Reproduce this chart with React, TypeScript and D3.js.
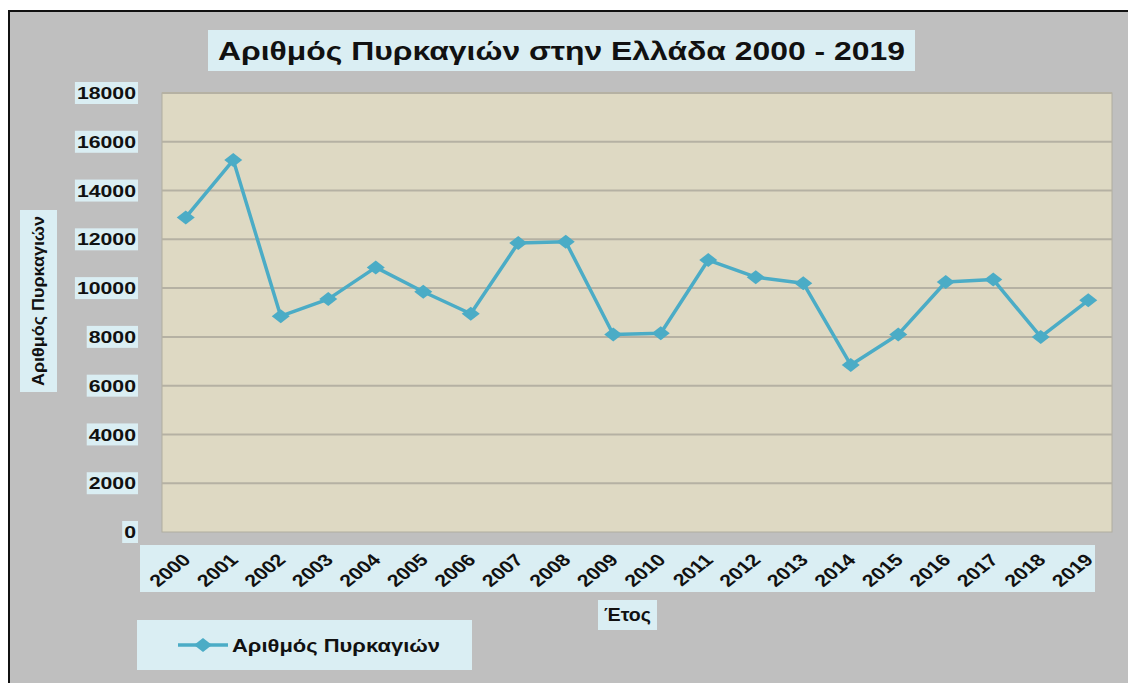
import React from "react";
import * as d3 from "d3";

// Αριθμός πυρκαγιών ανά έτος
const years = ["2000", "2001", "2002", "2003", "2004", "2005", "2006", "2007", "2008", "2009",
  "2010", "2011", "2012", "2013", "2014", "2015", "2016", "2017", "2018", "2019"];
const fires = [12900, 15250, 8850, 9550, 10850, 9850, 8950, 11850, 11900, 8100,
  8150, 11150, 10450, 10200, 6850, 8100, 10250, 10350, 8000, 9500];
const yTicks = [0, 2000, 4000, 6000, 8000, 10000, 12000, 14000, 16000, 18000];

const chartTitle = "Αριθμός Πυρκαγιών στην Ελλάδα 2000 - 2019";
const yTitle = "Αριθμός Πυρκαγιών";
const xTitle = "Έτος";
const seriesName = "Αριθμός Πυρκαγιών";

const App = () => {
  const ref = React.useRef<SVGSVGElement>(null);

  React.useEffect(() => {
    const width = 1128;
    const height = 683;
    const plot = { left: 162, right: 1112, top: 93, bottom: 532 };
    const sx = 1.25; // the picture is stretched sideways
    const font = "'Liberation Sans', Arial, sans-serif";
    const lineColor = "#4bacc6";
    const boxColor = "#daeef3";

    const svg = d3.select(ref.current);
    svg.selectAll("*").remove();

    // background + border
    svg.append("rect").attr("width", width).attr("height", height).attr("fill", "#fff");
    svg.append("rect").attr("x", 10).attr("y", 12).attr("width", width - 10).attr("height", height - 12)
      .attr("fill", "#bfbfbf");
    svg.append("path").attr("d", `M9,${height} V11 H${width}`)
      .attr("fill", "none").attr("stroke", "#111").attr("stroke-width", 2);

    const x = d3.scalePoint().domain(years).range([plot.left, plot.right]).padding(0.5);
    const y = d3.scaleLinear().domain([0, 18000]).range([plot.bottom, plot.top]);

    // plot area
    svg.append("rect")
      .attr("x", plot.left).attr("y", plot.top)
      .attr("width", plot.right - plot.left).attr("height", plot.bottom - plot.top)
      .attr("fill", "#ded9c3").attr("stroke", "#b0ad9f").attr("stroke-width", 1);

    svg.append("g").selectAll("line")
      .data(yTicks.filter(d => d > 0))
      .join("line")
      .attr("x1", plot.left).attr("x2", plot.right)
      .attr("y1", d => y(d)).attr("y2", d => y(d))
      .attr("stroke", "#b5b1a3").attr("stroke-width", 2);

    // y tick labels, each on its own light box
    const yLab = svg.append("g").selectAll("g")
      .data(yTicks)
      .join("g");
    yLab.append("text")
      .attr("transform", d => `translate(136,${y(d)}) scale(${sx},1)`)
      .attr("dy", "0.36em")
      .attr("text-anchor", "end")
      .attr("font-family", font).attr("font-weight", "bold").attr("font-size", 17)
      .attr("fill", "#111")
      .text(d => String(d));
    yLab.each(function (d) {
      const g = d3.select(this);
      const bb = (g.select("text").node() as SVGTextElement).getBBox();
      const w = bb.width * sx + 4;
      g.insert("rect", "text")
        .attr("x", 138 - w).attr("y", y(d) - 11)
        .attr("width", w).attr("height", 22)
        .attr("fill", boxColor);
    });

    // x tick labels band
    svg.append("rect").attr("x", 140).attr("y", 545).attr("width", 955).attr("height", 47).attr("fill", boxColor);
    svg.append("g").selectAll("text")
      .data(years)
      .join("text")
      .attr("transform", d => `translate(${(x(d) as number) + 6},561) scale(${sx},1) rotate(-45)`)
      .attr("text-anchor", "end")
      .attr("font-family", font).attr("font-weight", "bold").attr("font-size", 17)
      .attr("fill", "#111")
      .text(d => d);

    // series
    svg.append("path")
      .datum(fires)
      .attr("fill", "none")
      .attr("stroke", lineColor)
      .attr("stroke-width", 3.5)
      .attr("stroke-linejoin", "round")
      .attr("d", d3.line<number>().x((d, i) => x(years[i]) as number).y(d => y(d)));

    const diamond = "M0,-7 L9,0 L0,7 L-9,0 Z";
    svg.append("g").selectAll("path")
      .data(fires)
      .join("path")
      .attr("transform", (d, i) => `translate(${x(years[i])},${y(d)})`)
      .attr("d", diamond)
      .attr("fill", lineColor);

    // title
    svg.append("rect").attr("x", 208).attr("y", 30).attr("width", 707).attr("height", 41).attr("fill", boxColor);
    svg.append("text")
      .attr("x", 218).attr("y", 60)
      .attr("textLength", 687).attr("lengthAdjust", "spacingAndGlyphs")
      .attr("font-family", font).attr("font-weight", "bold").attr("font-size", 25)
      .attr("fill", "#111")
      .text(chartTitle);

    // y title
    svg.append("rect").attr("x", 20).attr("y", 210).attr("width", 37).attr("height", 182).attr("fill", boxColor);
    svg.append("text")
      .attr("transform", "translate(38.5,301) rotate(-90)")
      .attr("dy", "0.36em")
      .attr("text-anchor", "middle")
      .attr("textLength", 170).attr("lengthAdjust", "spacingAndGlyphs")
      .attr("font-family", font).attr("font-weight", "bold").attr("font-size", 16)
      .attr("fill", "#111")
      .text(yTitle);

    // x title
    svg.append("rect").attr("x", 598).attr("y", 600).attr("width", 59).attr("height", 30).attr("fill", boxColor);
    svg.append("text")
      .attr("x", 604).attr("y", 621)
      .attr("textLength", 47).attr("lengthAdjust", "spacingAndGlyphs")
      .attr("font-family", font).attr("font-weight", "bold").attr("font-size", 18)
      .attr("fill", "#111")
      .text(xTitle);

    // legend
    const legend = svg.append("g");
    legend.append("rect").attr("x", 137).attr("y", 620).attr("width", 335).attr("height", 50).attr("fill", boxColor);
    legend.append("line").attr("x1", 178).attr("x2", 228).attr("y1", 645).attr("y2", 645)
      .attr("stroke", lineColor).attr("stroke-width", 3.5);
    legend.append("path").attr("transform", "translate(203,645)").attr("d", diamond).attr("fill", lineColor);
    legend.append("text")
      .attr("x", 232).attr("y", 652)
      .attr("textLength", 208).attr("lengthAdjust", "spacingAndGlyphs")
      .attr("font-family", font).attr("font-weight", "bold").attr("font-size", 19)
      .attr("fill", "#111")
      .text(seriesName);
  }, []);

  return (
    <svg
      ref={ref}
      width={1128}
      height={683}
      style={{ position: "absolute", left: 0, top: 0, display: "block" }}
    />
  );
};

export default App;
